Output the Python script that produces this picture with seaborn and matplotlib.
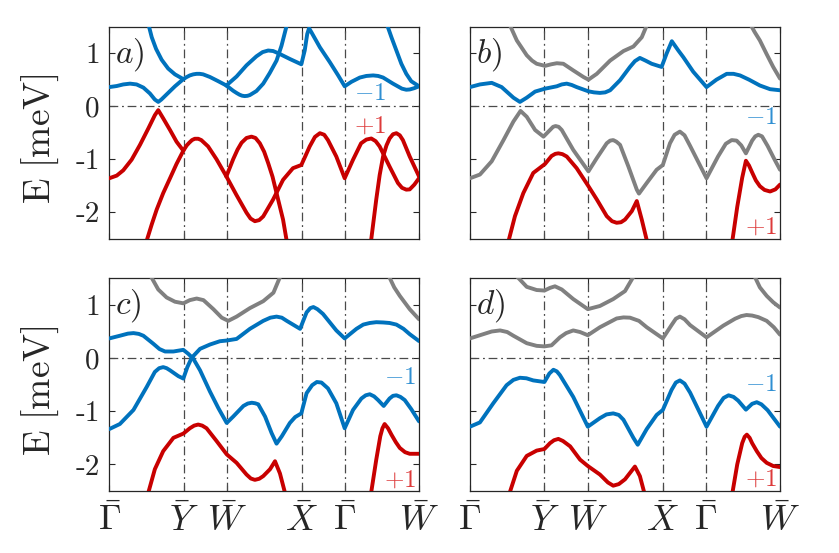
"""Band structure, four panels a)-d), along the Gamma-Y-W-X-Gamma-W path."""

import matplotlib

matplotlib.use("Agg")

import matplotlib.pyplot as plt
import pandas as pd
import seaborn as sns

# high-symmetry points along the path (fraction of total path length)
K_TICKS = [0.0, 0.24, 0.379, 0.621, 0.761, 1.0]
K_LABELS = [r"$\bar{\Gamma}$", r"$\bar{Y}$", r"$\bar{W}$", r"$\bar{X}$", r"$\bar{\Gamma}$", r"$\bar{W}$"]
E_TICKS = [-2, -1, 0, 1]
E_LABELS = ["-2", "-1", "0", "1"]

# ---- panel a ----
A_BLUE = [
    [(0, 0.36), (0.024, 0.38), (0.045, 0.41), (0.067, 0.425), (0.088, 0.41), (0.110, 0.35),
     (0.131, 0.24), (0.147, 0.125), (0.158, 0.08), (0.168, 0.125), (0.190, 0.25), (0.212, 0.375), (0.239, 0.51)],
    [(0.126, 1.55), (0.137, 1.3), (0.151, 1.08), (0.169, 0.875), (0.190, 0.71), (0.212, 0.60), (0.239, 0.51)],
    [(0.239, 0.51), (0.250, 0.55), (0.260, 0.58), (0.271, 0.60), (0.282, 0.61), (0.292, 0.61),
     (0.303, 0.60), (0.325, 0.55), (0.352, 0.47), (0.378, 0.39)],
    [(0.378, 0.39), (0.400, 0.29), (0.412, 0.245), (0.421, 0.215), (0.429, 0.197), (0.437, 0.19),
     (0.446, 0.195), (0.454, 0.21), (0.475, 0.285), (0.497, 0.425), (0.518, 0.625), (0.540, 0.86),
     (0.556, 1.14), (0.574, 1.55)],
    [(0.378, 0.39), (0.411, 0.56), (0.443, 0.77), (0.475, 0.94), (0.495, 1.02), (0.513, 1.05),
     (0.529, 1.04), (0.545, 1.0), (0.583, 0.89), (0.620, 0.79), (0.631, 1.05), (0.639, 1.36),
     (0.645, 1.47), (0.653, 1.39), (0.680, 1.11), (0.712, 0.83), (0.739, 0.58), (0.760, 0.375),
     (0.782, 0.46), (0.809, 0.54), (0.830, 0.57), (0.852, 0.58), (0.868, 0.57), (0.884, 0.54),
     (0.916, 0.425), (0.945, 0.33), (0.959, 0.31), (0.970, 0.315), (0.985, 0.34), (1.0, 0.375)],
    [(0.896, 1.55), (0.911, 1.3), (0.927, 1.05), (0.943, 0.80), (0.959, 0.61), (0.975, 0.47), (1.0, 0.375)],
]
A_RED = [
    [(0, -1.36), (0.024, -1.31), (0.045, -1.21), (0.072, -1.01), (0.099, -0.73), (0.126, -0.42),
     (0.147, -0.17), (0.158, -0.075), (0.174, -0.23), (0.196, -0.45), (0.217, -0.67), (0.239, -0.84)],
    [(0.120, -2.55), (0.137, -2.23), (0.153, -1.95), (0.174, -1.64), (0.196, -1.36), (0.217, -1.09), (0.239, -0.84)],
    [(0.239, -0.84), (0.250, -0.74), (0.258, -0.69), (0.267, -0.64), (0.276, -0.615), (0.287, -0.615),
     (0.297, -0.64), (0.319, -0.76), (0.346, -1.0), (0.378, -1.325)],
    [(0.378, -1.325), (0.400, -1.0), (0.414, -0.82), (0.427, -0.69), (0.443, -0.60), (0.459, -0.575),
     (0.472, -0.60), (0.486, -0.70), (0.500, -0.86), (0.513, -1.075), (0.527, -1.33), (0.540, -1.64),
     (0.561, -2.14), (0.573, -2.55)],
    [(0.378, -1.325), (0.410, -1.67), (0.443, -2.01), (0.456, -2.12), (0.470, -2.17), (0.484, -2.15),
     (0.497, -2.08), (0.529, -1.76), (0.561, -1.39), (0.593, -1.17), (0.620, -1.11), (0.634, -0.93),
     (0.647, -0.76), (0.664, -0.58), (0.680, -0.51), (0.694, -0.54), (0.706, -0.64), (0.733, -0.95),
     (0.760, -1.36), (0.787, -1.01), (0.813, -0.70), (0.830, -0.63), (0.846, -0.61), (0.860, -0.66),
     (0.873, -0.76), (0.905, -1.14), (0.932, -1.45), (0.945, -1.54), (0.959, -1.575), (0.970, -1.57),
     (0.985, -1.48), (1.0, -1.36)],
    [(0.845, -2.55), (0.862, -1.76), (0.873, -1.30), (0.884, -0.95), (0.895, -0.74), (0.905, -0.61),
     (0.916, -0.53), (0.927, -0.51), (0.938, -0.55), (0.948, -0.64), (0.970, -0.95), (1.0, -1.325)],
]
A_GRAY = []

# ---- panel b ----
B_BLUE = [
    [(0, 0.36), (0.032, 0.41), (0.07, 0.44), (0.102, 0.36), (0.14, 0.16), (0.161, 0.08), (0.183, 0.16),
     (0.21, 0.275), (0.242, 0.33), (0.28, 0.375), (0.296, 0.41), (0.312, 0.425), (0.328, 0.40),
     (0.344, 0.36), (0.382, 0.28), (0.40, 0.26), (0.419, 0.25), (0.436, 0.26), (0.452, 0.30),
     (0.484, 0.49), (0.516, 0.74), (0.532, 0.85), (0.548, 0.91), (0.566, 0.86), (0.586, 0.80),
     (0.618, 0.74), (0.634, 0.99), (0.651, 1.225), (0.672, 1.05), (0.688, 0.925), (0.720, 0.65),
     (0.763, 0.36), (0.795, 0.50), (0.828, 0.61), (0.850, 0.61), (0.871, 0.58), (0.900, 0.50),
     (0.935, 0.39), (0.968, 0.32), (1.0, 0.30)],
]
B_RED = [
    [(0.124, -2.55), (0.145, -2.075), (0.172, -1.64), (0.204, -1.26), (0.242, -1.09), (0.263, -0.94),
     (0.275, -0.90), (0.285, -0.89), (0.298, -0.905), (0.312, -0.95), (0.344, -1.17), (0.382, -1.51),
     (0.409, -1.76), (0.441, -2.075), (0.458, -2.17), (0.473, -2.2), (0.487, -2.19), (0.5, -2.14),
     (0.522, -1.98), (0.538, -1.79), (0.554, -2.14), (0.571, -2.55)],
    [(0.846, -2.55), (0.862, -1.9), (0.878, -1.35), (0.890, -1.03), (0.900, -1.12), (0.910, -1.25),
     (0.922, -1.40), (0.935, -1.51), (0.950, -1.58), (0.968, -1.61), (0.985, -1.57), (1.0, -1.48)],
]
B_GRAY = [
    [(0.127, 1.55), (0.151, 1.24), (0.183, 0.96), (0.200, 0.86), (0.215, 0.80), (0.242, 0.76),
     (0.262, 0.79), (0.28, 0.81), (0.301, 0.80), (0.333, 0.675), (0.366, 0.55), (0.382, 0.50),
     (0.409, 0.61), (0.452, 0.86), (0.495, 1.04), (0.527, 1.125), (0.554, 1.30), (0.572, 1.55)],
    [(0.904, 1.55), (0.918, 1.40), (0.935, 1.24), (0.957, 0.98), (0.978, 0.74), (1.0, 0.52)],
    [(0, -1.36), (0.032, -1.29), (0.07, -1.04), (0.108, -0.64), (0.14, -0.29), (0.163, -0.09),
     (0.183, -0.2), (0.21, -0.45), (0.237, -0.575), (0.258, -0.45), (0.268, -0.39), (0.276, -0.375),
     (0.286, -0.39), (0.296, -0.45), (0.333, -0.825), (0.382, -1.23), (0.409, -0.98), (0.441, -0.70),
     (0.452, -0.65), (0.462, -0.64), (0.472, -0.67), (0.484, -0.73), (0.511, -1.14), (0.538, -1.575),
     (0.545, -1.65), (0.57, -1.45), (0.602, -1.2), (0.622, -1.11), (0.645, -0.70), (0.660, -0.54),
     (0.677, -0.48), (0.692, -0.55), (0.710, -0.75), (0.763, -1.36), (0.800, -0.95), (0.825, -0.71),
     (0.844, -0.64), (0.860, -0.65), (0.875, -0.74), (0.890, -0.89), (0.910, -0.65), (0.920, -0.57),
     (0.930, -0.54), (0.942, -0.57), (0.960, -0.75), (0.980, -0.98), (1.0, -1.2)],
]

# ---- panel c ----
C_BLUE = [
    [(0, 0.37), (0.034, 0.42), (0.060, 0.46), (0.078, 0.47), (0.095, 0.455), (0.11, 0.42),
     (0.142, 0.27), (0.162, 0.17), (0.18, 0.124), (0.207, 0.124), (0.239, 0.155), (0.255, 0.08),
     (0.271, -0.01), (0.293, -0.23), (0.325, -0.63), (0.352, -0.94), (0.379, -1.22), (0.40, -1.10),
     (0.433, -0.90), (0.447, -0.855), (0.46, -0.84), (0.471, -0.85), (0.481, -0.87), (0.503, -1.10),
     (0.524, -1.41), (0.54, -1.61), (0.557, -1.47), (0.583, -1.22), (0.6, -1.11), (0.620, -1.04),
     (0.637, -0.66), (0.655, -0.51), (0.67, -0.45), (0.685, -0.46), (0.706, -0.57), (0.733, -0.85),
     (0.760, -1.32), (0.787, -0.975), (0.814, -0.76), (0.828, -0.70), (0.841, -0.68), (0.855, -0.72),
     (0.868, -0.79), (0.886, -0.90), (0.905, -0.76), (0.916, -0.71), (0.927, -0.70), (0.94, -0.73),
     (0.954, -0.79), (0.975, -0.96), (1.0, -1.19)],
    [(0, -1.335), (0.034, -1.24), (0.078, -0.975), (0.121, -0.54), (0.147, -0.26), (0.161, -0.19),
     (0.174, -0.17), (0.185, -0.19), (0.196, -0.23), (0.223, -0.34), (0.239, -0.385), (0.252, -0.17),
     (0.266, 0.006), (0.293, 0.174), (0.325, 0.255), (0.357, 0.317), (0.379, 0.33), (0.411, 0.36),
     (0.454, 0.55), (0.497, 0.70), (0.520, 0.76), (0.54, 0.78), (0.557, 0.76), (0.573, 0.70),
     (0.616, 0.55), (0.637, 0.86), (0.649, 0.94), (0.659, 0.96), (0.672, 0.92), (0.690, 0.83),
     (0.733, 0.52), (0.760, 0.37), (0.798, 0.55), (0.820, 0.63), (0.841, 0.66), (0.862, 0.675),
     (0.884, 0.67), (0.905, 0.66), (0.927, 0.63), (0.950, 0.55), (0.970, 0.45), (1.0, 0.32)],
]
C_RED = [
    [(0.125, -2.55), (0.147, -2.09), (0.174, -1.75), (0.207, -1.50), (0.239, -1.42), (0.26, -1.32),
     (0.274, -1.27), (0.287, -1.25), (0.300, -1.27), (0.314, -1.32), (0.347, -1.565), (0.379, -1.81),
     (0.411, -1.97), (0.443, -2.19), (0.457, -2.265), (0.47, -2.29), (0.484, -2.27), (0.497, -2.22),
     (0.519, -2.09), (0.535, -1.94), (0.551, -2.17), (0.568, -2.55)],
    [(0.845, -2.55), (0.862, -1.91), (0.875, -1.47), (0.882, -1.32), (0.889, -1.24), (0.900, -1.32),
     (0.911, -1.44), (0.925, -1.58), (0.938, -1.69), (0.955, -1.77), (0.970, -1.80), (1.0, -1.80)],
]
C_GRAY = [
    [(0.133, 1.55), (0.158, 1.29), (0.185, 1.14), (0.212, 1.06), (0.239, 1.03), (0.26, 1.09),
     (0.282, 1.12), (0.304, 1.09), (0.336, 0.92), (0.363, 0.76), (0.384, 0.70), (0.411, 0.78),
     (0.454, 0.94), (0.497, 1.07), (0.53, 1.23), (0.553, 1.55)],
    [(0.902, 1.55), (0.920, 1.33), (0.938, 1.17), (0.970, 0.92), (1.0, 0.73)],
]

# ---- panel d ----
D_BLUE = [
    [(0, -1.29), (0.032, -1.21), (0.075, -0.85), (0.118, -0.51), (0.140, -0.41), (0.161, -0.37),
     (0.182, -0.38), (0.204, -0.42), (0.240, -0.45), (0.256, -0.29), (0.269, -0.22), (0.280, -0.25),
     (0.290, -0.32), (0.333, -0.73), (0.380, -1.29), (0.419, -1.13), (0.440, -1.06), (0.462, -1.04),
     (0.480, -1.07), (0.495, -1.16), (0.527, -1.50), (0.541, -1.63), (0.570, -1.335), (0.602, -1.07),
     (0.622, -0.975), (0.650, -0.60), (0.664, -0.46), (0.677, -0.42), (0.692, -0.48), (0.710, -0.65),
     (0.763, -1.29), (0.800, -0.90), (0.818, -0.75), (0.834, -0.70), (0.850, -0.73), (0.865, -0.80),
     (0.890, -0.97), (0.910, -0.86), (0.925, -0.83), (0.940, -0.87), (0.960, -0.98), (1.0, -1.29)],
]
D_RED = [
    [(0.127, -2.55), (0.151, -2.12), (0.183, -1.84), (0.215, -1.74), (0.240, -1.71), (0.258, -1.60),
     (0.271, -1.545), (0.285, -1.52), (0.300, -1.56), (0.323, -1.66), (0.355, -1.91), (0.380, -2.03),
     (0.419, -2.19), (0.445, -2.34), (0.462, -2.40), (0.480, -2.37), (0.500, -2.28), (0.532, -2.04),
     (0.548, -2.22), (0.563, -2.55)],
    [(0.846, -2.55), (0.862, -2.0), (0.878, -1.6), (0.886, -1.48), (0.893, -1.44), (0.902, -1.50),
     (0.910, -1.6), (0.925, -1.75), (0.940, -1.88), (0.957, -1.97), (0.978, -2.03), (1.0, -2.05)],
]
D_GRAY = [
    [(0.149, 1.55), (0.183, 1.34), (0.215, 1.28), (0.240, 1.27), (0.258, 1.32), (0.274, 1.35),
     (0.296, 1.29), (0.333, 1.11), (0.380, 0.92), (0.419, 0.98), (0.462, 1.11), (0.500, 1.26), (0.529, 1.55)],
    [(0.917, 1.55), (0.935, 1.33), (0.957, 1.17), (0.978, 1.05), (1.0, 0.95)],
    [(0, 0.37), (0.043, 0.45), (0.070, 0.50), (0.097, 0.52), (0.120, 0.49), (0.140, 0.42), (0.183, 0.28),
     (0.215, 0.23), (0.240, 0.22), (0.263, 0.24), (0.290, 0.39), (0.310, 0.47), (0.333, 0.52),
     (0.355, 0.49), (0.380, 0.43), (0.419, 0.58), (0.473, 0.745), (0.495, 0.765), (0.516, 0.76),
     (0.545, 0.70), (0.570, 0.58), (0.622, 0.37), (0.650, 0.62), (0.664, 0.74), (0.677, 0.78),
     (0.692, 0.73), (0.710, 0.62), (0.763, 0.39), (0.817, 0.61), (0.855, 0.74), (0.875, 0.79),
     (0.892, 0.81), (0.910, 0.80), (0.930, 0.77), (0.957, 0.70), (0.980, 0.58), (1.0, 0.44)],
]

# (letter, axes rect, gray, blue, red, (x, y) of -1 tag, (x, y) of +1 tag)
PANELS = [
    ("a", [0.1303, 0.5684, 0.3691, 0.3834], A_GRAY, A_BLUE, A_RED, (0.893, 0.24), (0.893, -0.39)),
    ("b", [0.5602, 0.5684, 0.3695, 0.3834], B_GRAY, B_BLUE, B_RED, (0.99, -0.23), (0.99, -2.29)),
    ("c", [0.1303, 0.1121, 0.3691, 0.3846], C_GRAY, C_BLUE, C_RED, (0.99, -0.38), (0.99, -2.31)),
    ("d", [0.5602, 0.1121, 0.3695, 0.3846], D_GRAY, D_BLUE, D_RED, (0.99, -0.51), (0.99, -2.28)),
]

PALETTE = {"gray": "#808080", "blue": "#0072BD", "red": "#C80000"}
GUIDE = dict(color="#4a4a4a", lw=0.9, ls=(0, (7, 3, 1.5, 3)))


def to_frame(gray, blue, red):
    rows = []
    for kind, curves in (("gray", gray), ("blue", blue), ("red", red)):
        for i, curve in enumerate(curves):
            for k, e in curve:
                rows.append({"k": k, "E": e, "kind": kind, "curve": f"{kind}{i}"})
    return pd.DataFrame(rows)


sns.set_style("ticks")
plt.rcParams["mathtext.fontset"] = "cm"
plt.rcParams["font.family"] = ["cmr10", "DejaVu Serif"]
plt.rcParams["axes.unicode_minus"] = False

fig = plt.figure(figsize=(8.39, 5.53), dpi=100)

for letter, rect, gray, blue, red, minus_pos, plus_pos in PANELS:
    ax = fig.add_axes(rect)
    for kx in K_TICKS[1:-1]:
        ax.axvline(kx, zorder=1, **GUIDE)
    ax.axhline(0, zorder=1, **GUIDE)

    df = to_frame(gray, blue, red)
    sns.lineplot(data=df, x="k", y="E", hue="kind", units="curve", estimator=None, sort=False,
                 palette=PALETTE, lw=2.8, legend=False, ax=ax, zorder=3)

    ax.set_xlim(0, 1)
    ax.set_ylim(-2.5, 1.5)
    ax.set_xlabel("")
    ax.set_ylabel("")
    ax.set_xticks(K_TICKS)
    ax.set_yticks(E_TICKS)
    ax.tick_params(direction="in", top=True, right=True, length=4, width=0.8, colors="#262626")
    for side in ax.spines.values():
        side.set_linewidth(0.9)
        side.set_color("#262626")

    if letter in ("a", "c"):
        ax.set_yticklabels(E_LABELS, fontsize=21)
        ax.tick_params(axis="y", pad=7)
        ax.set_ylabel(r"$\mathrm{E\ [meV]}$", fontsize=27)
        ax.yaxis.set_label_coords(-0.155, 0.47)
    else:
        ax.set_yticklabels([])
    if letter in ("c", "d"):
        ax.set_xticklabels(K_LABELS, fontsize=26)
        ax.tick_params(axis="x", pad=9)
    else:
        ax.set_xticklabels([])

    ax.text(0.018, 0.87, rf"${letter})$", transform=ax.transAxes, fontsize=24, ha="left", va="center")
    ax.text(*minus_pos, r"$-1$", color="#2f8fd2", fontsize=18, ha="right", va="center", zorder=4)
    ax.text(*plus_pos, r"$+1$", color="#dd3a3a", fontsize=18, ha="right", va="center", zorder=4)

fig.savefig("out.png", dpi=100)
